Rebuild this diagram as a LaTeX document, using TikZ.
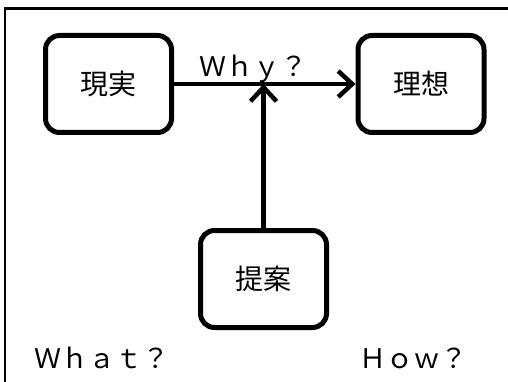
\documentclass[tikz,border=0pt]{standalone}
\usepackage{fontspec}
\setmainfont{Noto Sans CJK JP}
\usetikzlibrary{arrows.meta}
\tikzset{
  box/.style={draw=black, line width=5pt, rounded corners=14pt, minimum width=126pt, minimum height=97pt, inner sep=0pt, font=\fontsize{28}{30}\selectfont},
  conn/.style={line width=4.5pt, -{Straight Barb[length=14pt,width=26pt,line width=4.5pt]}},
  lbl/.style={font=\fontsize{27}{30}\selectfont, inner sep=0pt, anchor=base west}
}
\begin{document}
\begin{tikzpicture}[x=1pt,y=-1pt]
\useasboundingbox (0,0) rectangle (508,382);
\draw[line width=2.5pt] (5,382) -- (5,8.5) -- (508,8.5);
\node[box] (gen) at (108.5,84) {現実};
\node[box] (ris) at (421,84) {理想};
\node[box] (tei) at (263.5,279) {提案};
\coordinate (mid) at (tei.north |- gen.east);
\draw[conn] (gen.east) -- (ris.west);
\draw[conn] (tei.north) -- (mid);
\node[lbl] (why) at (199,77) {Ｗｈｙ？};
\node[lbl] (what) at (34,368) {Ｗｈａｔ？};
\node[lbl] (how) at (359,368) {Ｈｏｗ？};
\end{tikzpicture}
\end{document}
